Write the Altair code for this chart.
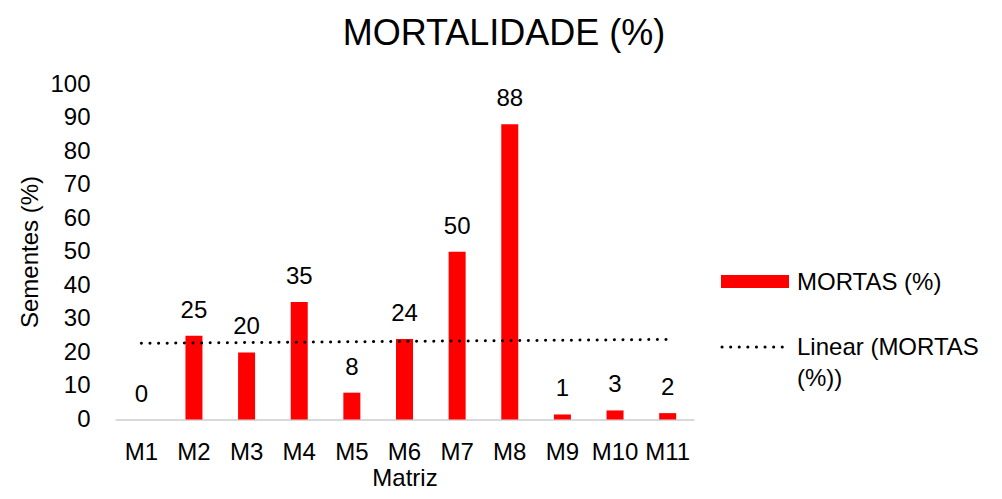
import altair as alt
import pandas as pd

# ---- data ----
categories = ["M1", "M2", "M3", "M4", "M5", "M6", "M7", "M8", "M9", "M10", "M11"]
mortas = [0, 25, 20, 35, 8, 24, 50, 88, 1.5, 2.7, 1.9]
label_text = ["0", "25", "20", "35", "8", "24", "50", "88", "1", "3", "2"]
y_ticks = [0, 10, 20, 30, 40, 50, 60, 70, 80, 90, 100]
title_text = "MORTALIDADE (%)"
legend_bar_label = "MORTAS (%)"
legend_line_label = "Linear (MORTAS\n(%))"

df = pd.DataFrame({
    "cat": categories,
    "value": mortas,
    "label": label_text,
    "idx": list(range(1, len(categories) + 1)),
})

FONT = "Liberation Sans"
FS = 24
RED = "#FF0000"

xscale = alt.Scale(domain=categories, paddingInner=0, paddingOuter=0)
yscale = alt.Scale(domain=[0, 100], nice=False)

x_enc = alt.X(
    "cat:N", scale=xscale,
    axis=alt.Axis(
        title="Matriz", labelAngle=0, ticks=False, grid=False,
        domainColor="#d9d9d9", domainWidth=2,
        labelPadding=21, labelFontSize=FS, labelFont=FONT, labelColor="#000000",
        titleFontSize=FS, titleFont=FONT, titleFontWeight="normal", titleColor="#000000",
        titleY=58.5, titleBaseline="middle",
    ),
)
y_enc = alt.Y(
    "value:Q", scale=yscale,
    axis=alt.Axis(
        title="Sementes (%)", values=y_ticks, ticks=False, tickSize=0, domain=False, grid=False,
        labelPadding=25, labelFontSize=FS, labelFont=FONT, labelColor="#000000",
        titleFontSize=FS, titleFont=FONT, titleFontWeight="normal", titleColor="#000000",
        titleX=-85, titleY=167.5, titleBaseline="middle", titleAlign="center", titleAngle=270,
    ),
)

base = alt.Chart(df)

bars = base.mark_bar(color=RED, size=17).encode(x=x_enc, y=y_enc)

labels = base.mark_text(
    font=FONT, fontSize=FS, color="#000000", baseline="alphabetic", dy=-18
).encode(x=x_enc, y=y_enc, text="label:N")

trend = (
    base.transform_regression("idx", "value", method="linear", extent=[1, len(categories)])
    .transform_calculate(cat="'M' + datum.idx")
    .mark_line(color="#000000", strokeWidth=3, strokeDash=[0.1, 8.5], strokeCap="round")
    .encode(x=x_enc, y=y_enc)
)

title = alt.Chart(pd.DataFrame({"t": [title_text]})).mark_text(
    font=FONT, fontSize=36, color="#000000", align="center", baseline="middle"
).encode(text="t:N", x=alt.value(389), y=alt.value(-50))

leg_rect = alt.Chart(pd.DataFrame({"t": [legend_bar_label]})).mark_rect(color=RED).encode(
    x=alt.value(606), x2=alt.value(674), y=alt.value(191), y2=alt.value(204)
)
leg_rect_text = alt.Chart(pd.DataFrame({"t": [legend_bar_label]})).mark_text(
    font=FONT, fontSize=FS, color="#000000", align="left", baseline="middle"
).encode(text="t:N", x=alt.value(682), y=alt.value(199))

leg_line = alt.Chart(pd.DataFrame({"t": [legend_line_label]})).mark_rule(
    color="#000000", strokeWidth=3, strokeDash=[0.1, 8.5], strokeCap="round"
).encode(x=alt.value(607), x2=alt.value(668), y=alt.value(263))
leg_line_text = alt.Chart(pd.DataFrame({"t": [legend_line_label]})).mark_text(
    font=FONT, fontSize=FS, color="#000000", align="left", baseline="alphabetic",
    lineBreak="\n", lineHeight=31
).encode(text="t:N", x=alt.value(682), y=alt.value(271))

chart = alt.layer(
    bars, labels, trend, title, leg_rect, leg_rect_text, leg_line, leg_line_text
).properties(
    width=579, height=335.5,
    autosize=alt.AutoSizeParams(type="none"),
    padding={"left": 107, "top": 76, "right": 296, "bottom": 71.5},
    background="white",
).configure_view(stroke=None)

chart.save("out.html", embed_options={"renderer": "svg", "actions": False})
